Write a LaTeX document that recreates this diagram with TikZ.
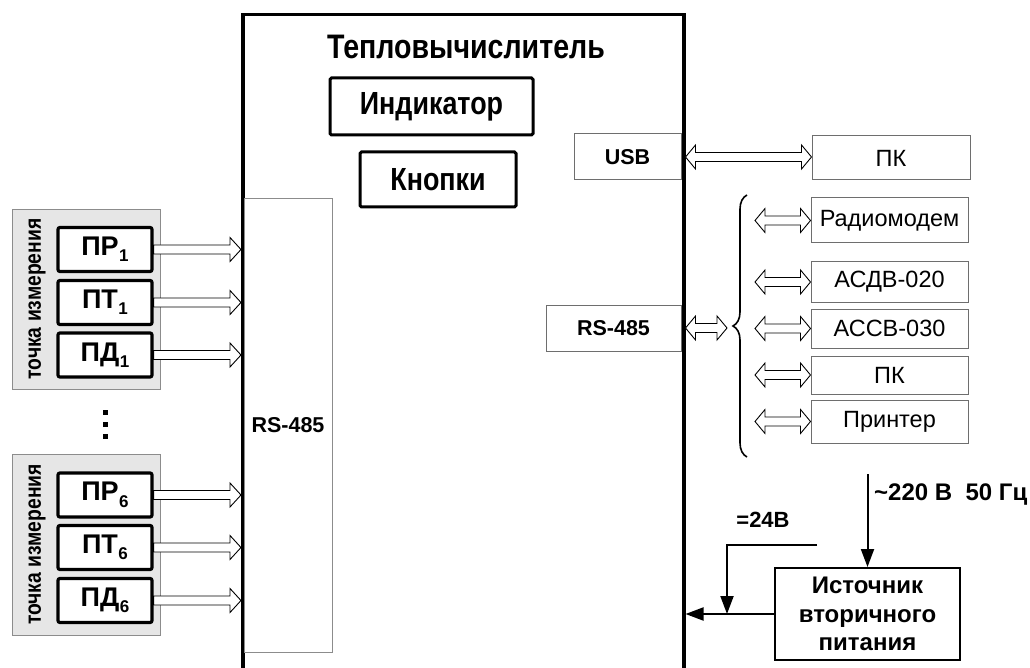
\documentclass[tikz,border=0pt]{standalone}
\usepackage{fontspec}
\setmainfont{Liberation Sans}
\newfontfamily\narrowfont{Liberation Sans}[FakeStretch=0.84]
\usetikzlibrary{positioning,calc,arrows.meta,decorations.pathreplacing}
\definecolor{ink}{HTML}{000000}
\definecolor{edge}{HTML}{6E6E6E}
\definecolor{grpfill}{HTML}{E6E6E6}
\definecolor{grpline}{HTML}{8C8C8C}
\newcommand{\lowidx}[1]{\kern0.5pt\raisebox{-0.45ex}{\fontsize{17}{17}\selectfont #1}}

\begin{document}
\begin{tikzpicture}[x=1pt, y=-1pt, text=ink,
    fat/.style={draw=ink, line width=3pt, rounded corners=1.5pt, inner sep=0pt,
                font={\narrowfont\bfseries\fontsize{32}{34}\selectfont}},
    thin/.style={draw=edge, line width=1pt, inner sep=0pt,
                 font={\fontsize{23.5}{25}\selectfont}},
    thinb/.style={thin, font={\bfseries\fontsize{21.5}{23}\selectfont}},
    grp/.style={draw=grpline, fill=grpfill, line width=0.8pt, inner sep=0pt,
                minimum width=148pt},
    sens/.style={draw=ink, fill=white, line width=3.2pt, rounded corners=2pt,
                 inner sep=0pt, minimum width=94pt, minimum height=44pt,
                 font={\bfseries\fontsize{27}{27}\selectfont}},
    vlbl/.style={rotate=90, font={\narrowfont\bfseries\fontsize{23}{24}\selectfont}},
    blbl/.style={font={\bfseries\fontsize{24}{26}\selectfont}},
    pline/.style={draw=ink, line width=2pt},
    tip/.style={-{Triangle[length=18pt, width=13pt]}},
    harr/.style={draw=ink, line width=0.9pt, fill=white,
      to path={let \p1=(\tikztostart), \p2=(\tikztotarget) in
        (\x1,\y1+4.5pt) -- (\x2-11pt,\y1+4.5pt) -- (\x2-11pt,\y1+12pt) -- (\x2,\y1)
        -- (\x2-11pt,\y1-12pt) -- (\x2-11pt,\y1-4.5pt) -- (\x1,\y1-4.5pt) -- cycle}},
    dharr/.style={draw=ink, line width=0.9pt, fill=white,
      to path={let \p1=(\tikztostart), \p2=(\tikztotarget) in
        (\x1,\y1) -- (\x1+10pt,\y1+12pt) -- (\x1+10pt,\y1+4.5pt) -- (\x2-10pt,\y1+4.5pt)
        -- (\x2-10pt,\y1+12pt) -- (\x2,\y1) -- (\x2-10pt,\y1-12pt) -- (\x2-10pt,\y1-4.5pt)
        -- (\x1+10pt,\y1-4.5pt) -- (\x1+10pt,\y1-12pt) -- cycle}},
  ]
  \useasboundingbox (0,0) rectangle (1030,668);

  % ---- heat calculator (open at the bottom)
  \node[draw=ink, line width=3.5pt, inner sep=0pt, minimum width=441pt,
        minimum height=700pt, anchor=north west] (heatcalc) at (241,13) {};
  \node[font={\narrowfont\bfseries\fontsize{34}{36}\selectfont}] (title) at (466,47) {Тепловычислитель};
  \node[fat, minimum width=203pt, minimum height=57pt] (disp) at (431.5,106.5) {Индикатор};
  \node[fat, minimum width=156pt, minimum height=55pt] (keys) at (438,179.5) {Кнопки};
  \node[thin, draw=grpline, minimum width=88pt, minimum height=453pt] (rsleft) at (288,425.5) {};
  \node[font={\bfseries\fontsize{21.5}{23}\selectfont}] at (rsleft) {RS-485};
  \node[thinb, minimum width=107pt, minimum height=46pt] (usb) at (627.5,157) {USB};
  \node[thinb, minimum width=135pt, minimum height=46pt] (rsright) at (613.5,328) {RS-485};

  % ---- measuring points
  \node[grp, minimum height=180pt] (grp1) at (86,299) {};
  \node[vlbl] at (37,299) {точка измерения};
  \node[sens] (pr1) at (105,249.5) {ПР\lowidx{1}};
  \node[sens] (pt1) at (105,302.5) {ПТ\lowidx{1}};
  \node[sens] (pd1) at (105,355) {ПД\lowidx{1}};

  \foreach \y in {410,422,434}
    \fill[ink] (103,\y) rectangle ++(4.5,4.5);

  \node[grp, minimum height=181pt] (grp6) at (86,544.5) {};
  \node[vlbl] at (37,544.5) {точка измерения};
  \node[sens] (pr6) at (105,495) {ПР\lowidx{6}};
  \node[sens] (pt6) at (105,547.5) {ПТ\lowidx{6}};
  \node[sens] (pd6) at (105,600.5) {ПД\lowidx{6}};

  \foreach \s in {pr1,pt1,pd1,pr6,pt6,pd6}
    \draw[harr] (\s.east) to (\s.east -| heatcalc.west);

  % ---- interfaces
  \node[thin, minimum width=158pt, minimum height=44pt] (pcusb) at (891,158) {ПК};
  \draw[dharr] (usb.east -| heatcalc.east) to (pcusb.west);

  \node[thin, minimum width=157pt, minimum height=45pt] (radio) at (889.5,220.5) {Радиомодем};
  \node[thin, minimum width=157pt, minimum height=40pt] (asdv) at (889.5,282) {АСДВ-020};
  \node[thin, minimum width=157pt, minimum height=39pt] (assv) at (889.5,328.5) {АССВ-030};
  \node[thin, minimum width=157pt, minimum height=38pt] (pcrs) at (889.5,375) {ПК};
  \node[thin, minimum width=157pt, minimum height=43pt] (printer) at (889.5,421.5) {Принтер};

  \coordinate (brbot) at (747,457);
  \coordinate (brtop) at (747,195);
  \coordinate (brtip) at (727,328);
  \coordinate (brx) at (755,0);
  \draw[ink, line width=1.6pt, decorate, decoration={brace, amplitude=14pt}] (brbot) -- (brtop);
  \draw[dharr] (rsright.east -| heatcalc.east) to (brtip);
  \foreach \d in {radio,asdv,assv,pcrs,printer}
    \draw[dharr] (\d.west -| brx) to (\d.west);

  % ---- power supply
  \node[draw=ink, line width=2pt, inner sep=0pt, minimum width=185pt, minimum height=92pt,
        align=center, font={\bfseries\fontsize{24}{28.5}\selectfont}] (psu) at (867.5,614)
        {Источник\\вторичного\\питания};
  \coordinate (mains) at (867.5,474);
  \coordinate (dc) at (817,545);
  \coordinate (dcjoin) at ($(psu.west)+(-47,0)$);
  \draw[pline, tip] (mains) -- (psu.north);
  \draw[pline, tip] (psu.west) -- (psu.west -| heatcalc.east);
  \draw[pline, tip] (dc) -| (dcjoin);
  \node[blbl, anchor=west, inner sep=1pt] at (873,495) {\char`\~220 В\ \ 50 Гц};
  \node[blbl, font={\bfseries\fontsize{22}{24}\selectfont}] at (763,520) {=24В};
\end{tikzpicture}
\end{document}
